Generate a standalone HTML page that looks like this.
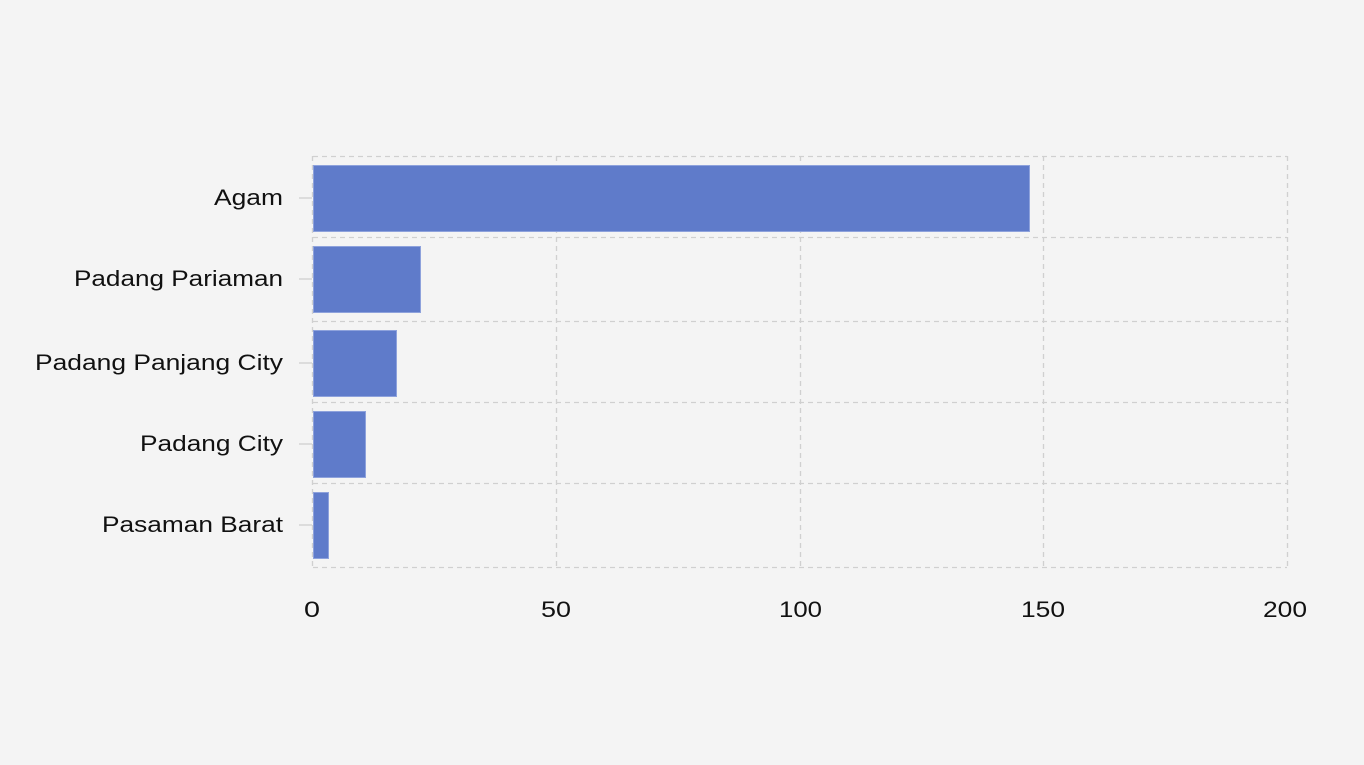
<!DOCTYPE html>
<html><head><style>html,body{margin:0;padding:0;background:#f4f4f4;}svg{display:block}</style></head>
<body>
<svg width="1364" height="765" xmlns="http://www.w3.org/2000/svg" font-family="Liberation Sans, sans-serif">
<rect width="1364" height="765" fill="#f4f4f4"/>
<g stroke="#d0d0d0" stroke-width="1.3" stroke-dasharray="5,4" fill="none">
<line x1="313" y1="156.5" x2="1287" y2="156.5"/>
<line x1="313" y1="237.5" x2="1287" y2="237.5"/>
<line x1="313" y1="321.5" x2="1287" y2="321.5"/>
<line x1="313" y1="402.5" x2="1287" y2="402.5"/>
<line x1="313" y1="483.5" x2="1287" y2="483.5"/>
<line x1="313" y1="567.5" x2="1287" y2="567.5"/>
<line x1="312.5" y1="156" x2="312.5" y2="567"/>
<line x1="556.5" y1="156" x2="556.5" y2="567"/>
<line x1="800.5" y1="156" x2="800.5" y2="567"/>
<line x1="1043.5" y1="156" x2="1043.5" y2="567"/>
<line x1="1287.5" y1="156" x2="1287.5" y2="567"/>
</g>
<g stroke="#d0d0d0" stroke-width="1.3">
<line x1="299" y1="198" x2="312" y2="198"/>
<line x1="299" y1="279" x2="312" y2="279"/>
<line x1="299" y1="363" x2="312" y2="363"/>
<line x1="299" y1="444" x2="312" y2="444"/>
<line x1="299" y1="525" x2="312" y2="525"/>
</g>
<g fill="#5f7bca" stroke="#8ea2dc" stroke-width="1">
<rect x="313.5" y="165.5" width="716" height="66"/>
<rect x="313.5" y="246.5" width="107" height="66"/>
<rect x="313.5" y="330.5" width="83" height="66"/>
<rect x="313.5" y="411.5" width="52" height="66"/>
<rect x="313.5" y="492.5" width="15" height="66"/>
</g>
<g font-size="22" fill="#111" lengthAdjust="spacingAndGlyphs">
<text x="214" y="205" textLength="69" lengthAdjust="spacingAndGlyphs">Agam</text>
<text x="74" y="286" textLength="209" lengthAdjust="spacingAndGlyphs">Padang Pariaman</text>
<text x="35" y="370" textLength="248" lengthAdjust="spacingAndGlyphs">Padang Panjang City</text>
<text x="140" y="451" textLength="143" lengthAdjust="spacingAndGlyphs">Padang City</text>
<text x="102" y="532" textLength="181" lengthAdjust="spacingAndGlyphs">Pasaman Barat</text>
</g>
<g font-size="22" fill="#111">
<text x="304" y="617" textLength="16" lengthAdjust="spacingAndGlyphs">0</text>
<text x="541" y="617" textLength="30" lengthAdjust="spacingAndGlyphs">50</text>
<text x="779" y="617" textLength="43" lengthAdjust="spacingAndGlyphs">100</text>
<text x="1021" y="617" textLength="44" lengthAdjust="spacingAndGlyphs">150</text>
<text x="1263" y="617" textLength="44" lengthAdjust="spacingAndGlyphs">200</text>
</g>
</svg>
</body></html>
